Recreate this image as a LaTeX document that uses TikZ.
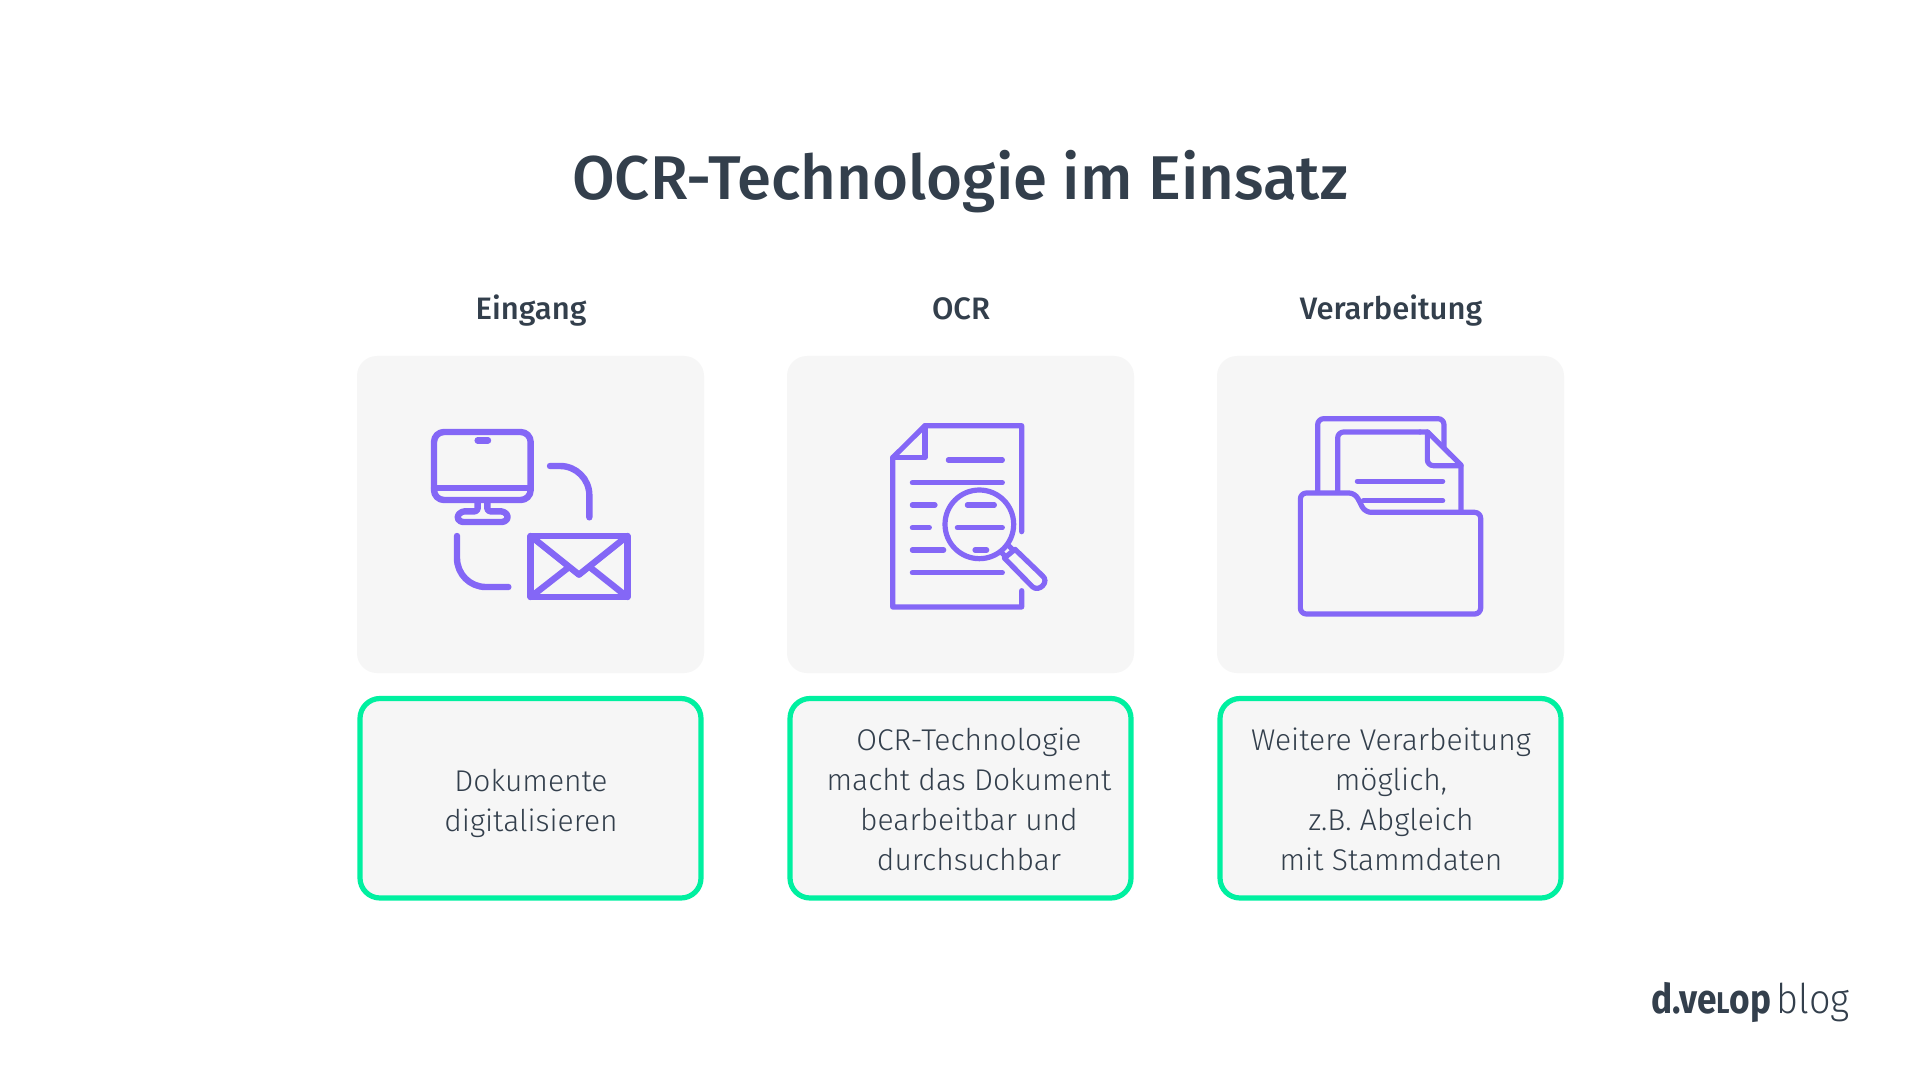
\documentclass[tikz,border=0pt]{standalone}
\usepackage{fontspec}
\setmainfont{Fira Sans}
\newfontfamily\lightf{Fira Sans Light}
\newfontfamily\medf{Fira Sans Medium}
\newfontfamily\logob[FakeStretch=0.86]{Fira Sans Bold}
\newfontfamily\logol[FakeStretch=0.92]{Fira Sans Light}
\definecolor{ink}{HTML}{333F4C}
\definecolor{vio}{HTML}{8467F6}
\definecolor{grn}{HTML}{00F0A0}
\definecolor{card}{HTML}{F6F6F6}
\tikzset{
 cardbox/.style={fill=card,rounded corners=10pt,draw=none},
 textbox/.style={fill=card,draw=grn,line width=2.6pt,rounded corners=10pt},
 ic/.style={draw=vio,line width=3.2pt,line cap=round,line join=round},
 ict/.style={draw=vio,line width=2.6pt,line cap=round,line join=round},
 head/.style={text=ink,font=\medf\fontsize{15.5}{18}\selectfont,anchor=base},
 body/.style={text=ink,font=\lightf\fontsize{15}{20}\selectfont,align=center,anchor=center},
}
\begin{document}
\begin{tikzpicture}[x=0.5pt,y=-0.5pt]
\useasboundingbox (0,0) rectangle (1920,1080);
\fill[white] (0,0) rectangle (1920,1080);
\node[text=ink,font=\medf\fontsize{30.9}{36}\selectfont,anchor=base] (title) at (960,199.5) {OCR-Technologie im Einsatz};
\node[head] (h1) at (531,319.5) {Eingang};
\node[head] (h2) at (961,319.5) {OCR};
\node[head] (h3) at (1391,319.5) {Verarbeitung};
\path[cardbox] (357,356) rectangle (704,673);
\path[cardbox] (787,356) rectangle (1134,673);
\path[cardbox] (1217,356) rectangle (1564,673);
\path[textbox] (360,698.5) rectangle (701,898);
\path[textbox] (790,698.5) rectangle (1131,898);
\path[textbox] (1220,698.5) rectangle (1561,898);
\node[body] (t1) at (531,803) {Dokumente\\digitalisieren};
\node[body] (t2) at (969,799) {OCR-Technologie\\macht das Dokument\\bearbeitbar und\\durchsuchbar};
\node[body] (t3) at (1391,799) {Weitere Verarbeitung\\möglich,\\z.B. Abgleich\\mit Stammdaten};
% icon 1
\begin{scope}[shift={(350,350)},x=0.16667pt,y=-0.16667pt]
\draw[ic,rounded corners=5pt] (252,246) rectangle (542,450);
\draw[ic] (252,414)--(542,414);
\draw[ic] (383,271)--(414,271);
\draw[ic,rounded corners=1.5pt] (383,458)--(383,484)--(335,484)--(320,500)--(330,516)--(465,516)--(476,500)--(462,484)--(412,484)--(412,458);
\draw[ic,rounded corners=14.6pt] (600,348)--(718,348)--(718,502);
\draw[ic,rounded corners=14.4pt] (321,558)--(321,711)--(475,711);
\draw[ic] (542,558) rectangle (832,741);
\draw[ic] (542,558)--(687,674)--(832,558);
\draw[ic] (542,741)--(652,655);
\draw[ic] (832,741)--(724,655);
\end{scope}
% icon 2
\begin{scope}[shift={(785,350)},x=0.16667pt,y=-0.16667pt]
\draw[ict] (710,545)--(710,227)--(420,227)--(323,323)--(323,771)--(710,771)--(710,722);
\draw[ict] (420,227)--(420,323)--(323,323);
\draw[ict] (490,330)--(652,330);
\draw[ict] (382,398)--(652,398);
\draw[ict] (382,465)--(450,465);
\draw[ict] (547,465)--(628,465);
\draw[ict] (382,533)--(433,533);
\draw[ict] (517,533)--(652,533);
\draw[ict] (382,600)--(476,600);
\draw[ict] (570,600)--(605,600);
\draw[ict] (382,668)--(652,668);
\draw[ict] (583,523) circle[radius=103];
\draw[ict] (658,624)--(742,710) .. controls (762,728) and (795,695) .. (772,677)--(690,598)--cycle;
\draw[ict] (648,606)--(660,618);
\draw[ict] (670,586)--(682,598);
\end{scope}
% icon 3
\begin{scope}[shift={(1220,350)},x=0.16667pt,y=-0.16667pt]
\draw[ict,rounded corners=3pt] (293,425)--(293,206)--(672,206)--(672,290);
\draw[ict,rounded corners=3pt] (353,425)--(353,246)--(600,246);
\draw[ict] (600,246)--(623,246)--(723,345)--(723,485);
\draw[ict,rounded corners=3pt] (622,246)--(622,347)--(723,347);
\draw[ict] (412,394)--(668,394);
\draw[ict] (430,452)--(668,452);
\draw[ict,rounded corners=3pt] (241,429)--(405,429)--(435,487)--(782,487)--(782,792)--(241,792)--cycle;
\end{scope}
\node[anchor=base east,text=ink,inner sep=0pt] (logo) at (1850,1013) {{\logob\fontsize{20.5}{24}\selectfont d.ve{\fontsize{15}{15}\selectfont L}op} {\logol\fontsize{20.5}{24}\selectfont blog}};
\end{tikzpicture}
\end{document}
